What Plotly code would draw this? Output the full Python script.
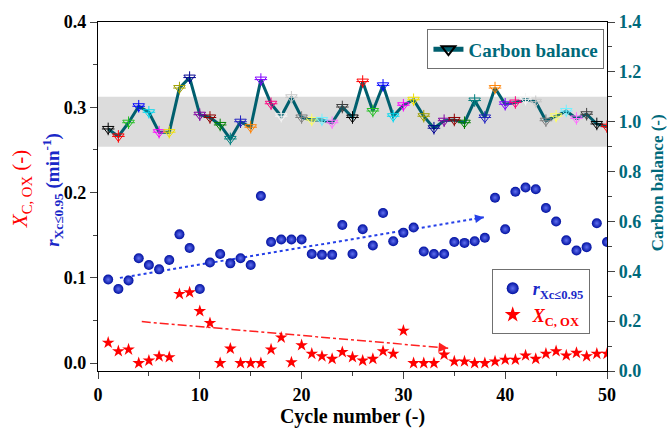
import plotly.graph_objects as go

# Cycle index shared by all three series
cycles = list(range(1, 51))

# Initial reaction rate r (X_C <= 0.95), min^-1
rate = [0.098, 0.087, 0.097, 0.123, 0.115, 0.110, 0.121, 0.151, 0.135, 0.087,
        0.118, 0.128, 0.117, 0.123, 0.115, 0.196, 0.142, 0.145, 0.145, 0.145,
        0.128, 0.127, 0.127, 0.162, 0.128, 0.157, 0.138, 0.176, 0.143, 0.153,
        0.159, 0.131, 0.128, 0.128, 0.142, 0.141, 0.143, 0.147, 0.194, 0.157,
        0.201, 0.206, 0.204, 0.182, 0.166, 0.144, 0.132, 0.136, 0.164, 0.142]

# Carbon conversion during oxidation, X_C,OX
x_cox = [0.024, 0.014, 0.016, 0.000, 0.003, 0.008, 0.007, 0.081, 0.083, 0.061,
         0.047, 0.000, 0.017, 0.000, 0.000, 0.000, 0.016, 0.030, 0.001, 0.021,
         0.011, 0.008, 0.005, 0.013, 0.007, 0.003, 0.005, 0.014, 0.011, 0.038,
         0.000, 0.000, 0.000, 0.010, 0.002, 0.002, 0.000, 0.000, 0.002, 0.004,
         0.004, 0.009, 0.005, 0.011, 0.014, 0.009, 0.012, 0.008, 0.011, 0.011]

# Carbon balance per cycle
carbon_balance = [0.971, 0.941, 0.996, 1.062, 1.038, 0.958, 0.958, 1.135, 1.177, 1.028,
                  1.017, 0.987, 0.931, 1.000, 0.978, 1.169, 1.072, 1.022, 1.098, 1.017,
                  1.007, 1.007, 0.996, 1.059, 1.017, 1.161, 1.043, 1.146, 1.022, 1.066,
                  1.088, 1.022, 0.974, 1.004, 1.007, 0.996, 1.085, 1.017, 1.135, 1.070,
                  1.077, 1.090, 1.080, 1.004, 1.022, 1.043, 1.013, 1.030, 0.991, 0.980]

# Acceptable carbon-balance window
balance_band = [0.9, 1.1]

# Trend arrows: [start, end] in (cycle, value)
rate_trend_x = [2.15, 37.9]
rate_trend_y = [0.100, 0.171]
cox_trend_x = [4.3, 34.4]
cox_trend_y = [0.0487, 0.0176]

# Per-point colour cycle for the carbon balance symbols
point_palette = ["#000000", "#FF0000", "#22C022", "#0000FF", "#00D8F0", "#FF00FF",
                 "#F0E000", "#A0A000", "#000090", "#8000A0", "#900000", "#008000",
                 "#008080", "#2020C0", "#FF8000", "#8000FF", "#FF0080", "#F4F4F4",
                 "#C8C8C8", "#808080", "#FFFF60", "#70F0FF", "#FF70FF", "#404040"]
point_colors = [point_palette[i % len(point_palette)] for i in range(len(cycles))]

SERIF = "Liberation Serif"
TEAL = "#00697A"


def serif(size, color, bold=True):
    return dict(family=SERIF, size=size, color=color,
                weight="bold" if bold else "normal")


fig = go.Figure()

fig.add_shape(type="rect", xref="paper", yref="y2", x0=0, x1=1,
              y0=balance_band[0], y1=balance_band[1],
              fillcolor="#DCDCDC", line=dict(width=0), layer="below")

fig.add_trace(go.Scatter(
    x=cycles, y=carbon_balance, yaxis="y2", name="Carbon balance",
    mode="lines+markers", legend="legend",
    line=dict(color="#005F6E", width=3),
    marker=dict(symbol="triangle-down-open", size=10, color=point_colors,
                line=dict(width=1, color=point_colors)),
))
fig.add_trace(go.Scatter(
    x=cycles, y=carbon_balance, yaxis="y2", showlegend=False, mode="markers",
    marker=dict(symbol="cross-thin-open", size=9, color=point_colors,
                line=dict(width=1, color=point_colors)),
))

fig.add_trace(go.Scatter(
    x=rate_trend_x, y=rate_trend_y, mode="lines", showlegend=False,
    line=dict(color="#2540E8", width=2, dash="dot"),
))
fig.add_trace(go.Scatter(
    x=cox_trend_x, y=cox_trend_y, mode="lines", showlegend=False,
    line=dict(color="#FF2020", width=1.5, dash="dashdot"),
))

fig.add_trace(go.Scatter(
    x=cycles, y=rate, name="<i>r</i><sub>Xc≤0.95</sub>", mode="markers",
    legend="legend2",
    marker=dict(symbol="circle", size=10, color="#0010A0",
                gradient=dict(type="radial", color="#6070F0"),
                line=dict(width=0)),
))
fig.add_trace(go.Scatter(
    x=cycles, y=x_cox,
    name="<span style='color:#FF0000'><i>X</i><sub>C, OX</sub></span>",
    mode="markers", legend="legend2",
    marker=dict(symbol="star", size=9.5, color="#FF0000", line=dict(width=0)),
))


def arrow_head(xs, ys, color, size):
    # short solid arrow at the end of a dashed trend line
    dx = (xs[1] - xs[0]) * 0.03
    dy = (ys[1] - ys[0]) * 0.03
    return dict(x=xs[1], y=ys[1], ax=xs[1] - dx, ay=ys[1] - dy,
                xref="x", yref="y", axref="x", ayref="y", text="",
                showarrow=True, arrowhead=2, arrowsize=size, arrowwidth=1.6,
                arrowcolor=color)


annotations = [
    arrow_head(rate_trend_x, rate_trend_y, "#2540E8", 1.1),
    arrow_head(cox_trend_x, cox_trend_y, "#FF2020", 1.2),
    dict(text="<i>X</i><sub>C, OX</sub> (-)", xref="paper", yref="paper",
         x=-0.152, y=0.52, xanchor="center", yanchor="middle",
         textangle=-90, showarrow=False,
         font=serif(21, "#FF0000", bold=False)),
    dict(text="<i>r</i><sub>Xc≤0.95</sub> (min<sup>-1</sup>)", xref="paper",
         yref="paper", x=-0.09, y=0.52, xanchor="center", yanchor="middle",
         textangle=-90, showarrow=False,
         font=serif(19, "#1A28C8")),
    dict(text="Carbon balance (-)", xref="paper", yref="paper",
         x=1.099, y=0.539, xanchor="center", yanchor="middle",
         textangle=-90, showarrow=False,
         font=serif(17, TEAL)),
]

fig.update_layout(
    width=669, height=435,
    margin=dict(l=98, r=62, t=20, b=59),
    paper_bgcolor="white", plot_bgcolor="white",
    font=dict(family=SERIF),
    annotations=annotations,
    xaxis=dict(range=[0, 50], dtick=10, tick0=0, ticks="outside", ticklen=7,
               tickwidth=1.2, showline=True, linecolor="black", linewidth=1.2,
               mirror=True, showgrid=False, zeroline=False,
               tickfont=serif(18, "#000000"),
               minor=dict(dtick=5, ticks="outside", ticklen=4, tickwidth=1.2),
               title=dict(text="Cycle number (-)", standoff=4,
                          font=serif(20, "#000000"))),
    yaxis=dict(range=[-0.0092, 0.4], dtick=0.1, tick0=0, tickformat=".1f",
               ticks="outside", ticklen=7, tickwidth=1.2, showline=True,
               linecolor="black", linewidth=1.2, showgrid=False, zeroline=False,
               tickfont=serif(18, "#000000"),
               minor=dict(dtick=0.05, tick0=0, ticks="outside", ticklen=4,
                          tickwidth=1.2)),
    yaxis2=dict(range=[0, 1.4], dtick=0.2, tick0=0, tickformat=".1f",
                overlaying="y", side="right", ticks="outside", ticklen=7,
                tickwidth=1.2, showline=True, linecolor="black", linewidth=1.2,
                showgrid=False, zeroline=False,
                tickfont=serif(18, TEAL),
                minor=dict(dtick=0.1, tick0=0, ticks="outside", ticklen=4,
                           tickwidth=1.2)),
    legend=dict(x=0.995, y=0.979, xanchor="right", yanchor="top",
                bgcolor="white", bordercolor="#707070", borderwidth=1,
                font=serif(19, TEAL),
                itemsizing="constant", tracegroupgap=0),
    legend2=dict(x=0.966, y=0.292, xanchor="right", yanchor="top",
                 bgcolor="white", bordercolor="#707070", borderwidth=1,
                 font=serif(18, "#1A28C8"),
                 itemsizing="constant"),
)

fig.write_html("out.html")
